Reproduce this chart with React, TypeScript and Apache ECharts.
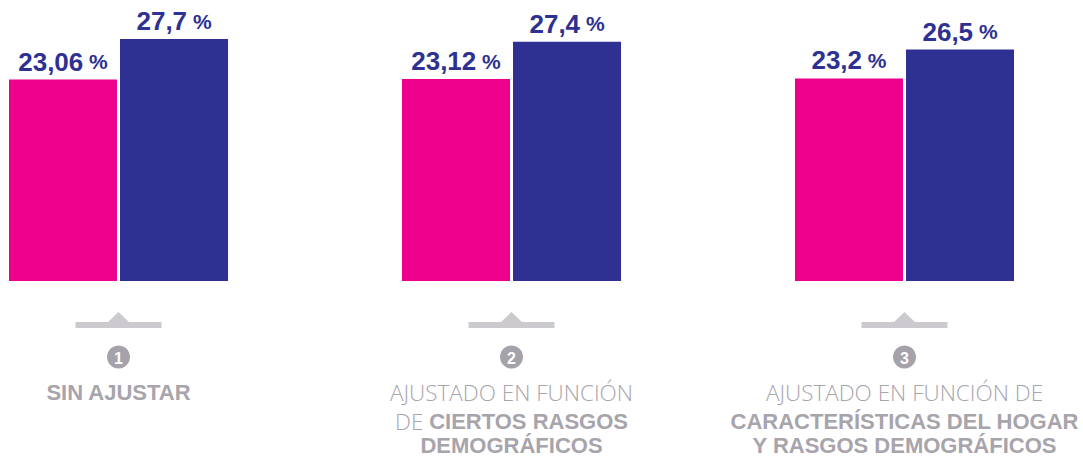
import React, { useEffect, useRef } from 'react';
import * as echarts from 'echarts';

const groupIndex = [1, 2, 3];
const stepNumbers = ['1', '2', '3'];
const pinkValues = [23.06, 23.12, 23.2];
const blueValues = [27.7, 27.4, 26.5];
const captionLines = [
  ['{b|SIN AJUSTAR}'],
  ['{l|AJUSTADO EN FUNCIÓN}', '{l|DE }{b|CIERTOS RASGOS}', '{b|DEMOGRÁFICOS}'],
  ['{l|AJUSTADO EN FUNCIÓN DE}', '{b|CARACTERÍSTICAS DEL HOGAR}', '{b|Y RASGOS DEMOGRÁFICOS}'],
];

const PINK = '#ec008c';
const NAVY = '#2e3192';
const MARK_GRAY = '#cccacf';
const CIRCLE_GRAY = '#a6a2a9';
const TEXT_GRAY = '#a8a4ab';

const fmt = (v: number) => String(v).replace('.', ',');

export default function App() {
  const ref = useRef<HTMLDivElement>(null);
  useEffect(() => {
    if (!ref.current) return;
    const chart = echarts.init(ref.current, undefined, { renderer: 'svg' });
    const label = {
      show: true,
      position: 'top',
      distance: 5,
      formatter: (p: any) => `{v|${fmt(p.value[1])}}{p| %}`,
      rich: {
        v: { fontFamily: 'Liberation Sans', fontWeight: 'bold', fontSize: 26, color: NAVY },
        p: { fontFamily: 'Liberation Sans', fontWeight: 'bold', fontSize: 21, color: NAVY },
      },
    };
    chart.setOption({
      animation: false,
      grid: { left: 0, right: 0, top: 19, bottom: 175, containLabel: false },
      xAxis: {
        type: 'value',
        min: 0.69847,
        max: 3.45420,
        show: false,
      },
      yAxis: { type: 'value', min: 0, max: 30, show: false },
      series: [
        {
          type: 'bar',
          data: groupIndex.map((g, i) => [g, pinkValues[i]]),
          barWidth: 108,
          barGap: '2.8%',
          itemStyle: { color: PINK },
          label,
        },
        {
          type: 'bar',
          data: groupIndex.map((g, i) => [g, blueValues[i]]),
          barWidth: 108,
          barGap: '2.8%',
          itemStyle: { color: NAVY },
          label,
        },
      ],
    });

    const richStyles = {
      b: { fontFamily: 'Liberation Sans', fontWeight: 'bold', fontSize: 22, lineHeight: 22, fill: TEXT_GRAY, color: TEXT_GRAY },
      l: { fontFamily: 'Open Sans', fontWeight: 300, fontSize: 22.5, lineHeight: 22, fill: TEXT_GRAY, color: TEXT_GRAY },
    };
    const lineY = [392.5, 421.5, 445];
    const elements: any[] = [];
    groupIndex.forEach((g, i) => {
      const cx = chart.convertToPixel({ xAxisIndex: 0 }, g) as number;
      elements.push(
        { type: 'rect', shape: { x: cx - 43, y: 322, width: 86, height: 6 }, style: { fill: MARK_GRAY } },
        { type: 'polygon', shape: { points: [[cx - 11, 322.5], [cx, 312], [cx + 11, 322.5]] }, style: { fill: MARK_GRAY } },
        { type: 'circle', shape: { cx, cy: 357, r: 11.5 }, style: { fill: CIRCLE_GRAY } },
        {
          type: 'text',
          x: cx,
          y: 358,
          style: {
            text: stepNumbers[i],
            fill: '#ffffff',
            font: 'bold 16px "Liberation Sans"',
            textAlign: 'center',
            textVerticalAlign: 'middle',
          },
        }
      );
      captionLines[i].forEach((line, j) => {
        elements.push({
          type: 'text',
          x: cx,
          y: lineY[j],
          style: {
            text: line,
            textAlign: 'center',
            textVerticalAlign: 'middle',
            rich: richStyles,
          },
        });
      });
    });
    chart.setOption({ graphic: { elements } });
    return () => chart.dispose();
  }, []);
  return (
    <div
      ref={ref}
      style={{ position: 'absolute', left: 0, top: 0, width: 1083, height: 456 }}
    />
  );
}
